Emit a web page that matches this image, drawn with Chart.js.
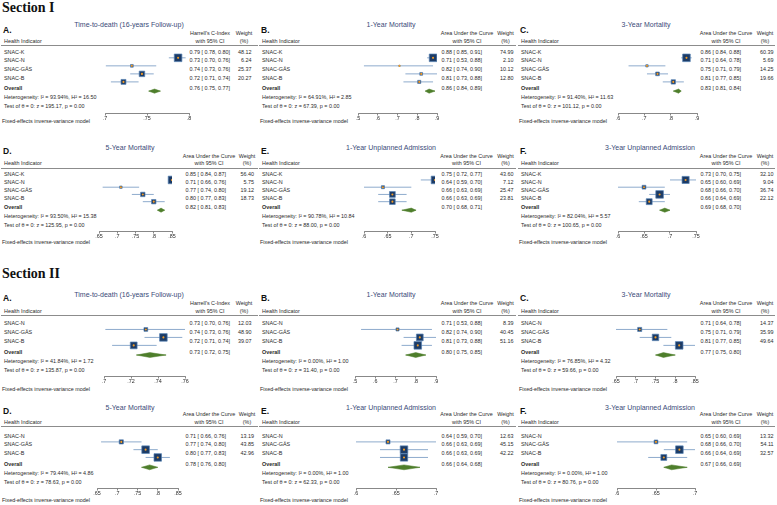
<!DOCTYPE html>
<html>
<head>
<meta charset="utf-8">
<script src="https://cdn.jsdelivr.net/npm/chart.js@4.4.1/dist/chart.umd.min.js"></script>
<style>
html, body { margin: 0; padding: 0; background: #fff; }
#fig { position: relative; width: 777px; height: 505px; overflow: hidden; background: #fff;
       font-family: 'Liberation Sans', Arial, sans-serif; color: #2a2a2a; }
.t { position: absolute; white-space: pre; line-height: 1; }
.rule { position: absolute; height: 1px; background: #8c8c8c; }
canvas { position: absolute; }
</style>
</head>
<body>
<div id="fig"></div>
<script>
// ---- data ----
const studiesI = ['SNAC-K', 'SNAC-N', 'SNAC-GÄS', 'SNAC-B'];
const studiesII = ['SNAC-N', 'SNAC-GÄS', 'SNAC-B'];
const outcomes = ['Time-to-death (16-years Follow-up)', '1-Year Mortality', '3-Year Mortality',
                  '5-Year Mortality', '1-Year Unplanned Admission', '3-Year Unplanned Admission'];
const letters = ['A.', 'B.', 'C.', 'D.', 'E.', 'F.'];
const metrics = ["Harrell's C-Index", 'Area Under the Curve', 'Area Under the Curve',
                 'Area Under the Curve', 'Area Under the Curve', 'Area Under the Curve'];

// Section I
const estI = [[0.787, 0.732, 0.744, 0.722], [0.88, 0.71, 0.82, 0.81], [0.86, 0.71, 0.75, 0.81],
              [0.85, 0.71, 0.77, 0.80], [0.75, 0.64, 0.66, 0.66], [0.73, 0.65, 0.68, 0.66]];
const loI = [[0.776, 0.701, 0.730, 0.707], [0.85, 0.53, 0.74, 0.73], [0.84, 0.64, 0.71, 0.77],
             [0.84, 0.66, 0.74, 0.77], [0.72, 0.59, 0.63, 0.63], [0.70, 0.60, 0.66, 0.64]];
const hiI = [[0.796, 0.761, 0.758, 0.740], [0.91, 0.88, 0.90, 0.88], [0.88, 0.78, 0.79, 0.85],
             [0.87, 0.76, 0.80, 0.83], [0.77, 0.70, 0.69, 0.69], [0.75, 0.69, 0.70, 0.69]];
const wtI = [[48.12, 6.24, 25.37, 20.27], [74.99, 2.10, 10.12, 12.80], [60.39, 5.69, 14.25, 19.66],
             [56.40, 5.75, 19.12, 18.73], [43.60, 7.12, 25.47, 23.81], [32.10, 9.04, 36.74, 22.12]];
const overallI = [[0.759, 0.752, 0.766], [0.86, 0.84, 0.89], [0.83, 0.81, 0.84],
                  [0.82, 0.81, 0.83], [0.70, 0.68, 0.71], [0.69, 0.68, 0.70]];
const i2I = [93.94, 64.91, 91.40, 93.50, 90.78, 82.04];
const h2I = [16.50, 2.85, 11.63, 15.38, 10.84, 5.57];
const zI = [195.17, 67.39, 101.12, 125.95, 88.00, 100.65];
const ticksI = [[.7, .75, .8], [.5, .6, .7, .8, .9], [.6, .7, .8, .9],
                [.65, .7, .75, .8, .85], [.6, .65, .7, .75], [.6, .65, .7, .75]];

// Section II
const estII = [[0.731, 0.744, 0.722], [0.71, 0.82, 0.81], [0.71, 0.75, 0.81],
               [0.71, 0.77, 0.80], [0.64, 0.66, 0.66], [0.65, 0.68, 0.66]];
const loII = [[0.701, 0.730, 0.706], [0.53, 0.74, 0.73], [0.64, 0.71, 0.77],
              [0.66, 0.74, 0.77], [0.59, 0.63, 0.63], [0.60, 0.66, 0.64]];
const hiII = [[0.760, 0.758, 0.739], [0.88, 0.90, 0.88], [0.78, 0.79, 0.85],
              [0.76, 0.80, 0.83], [0.70, 0.69, 0.69], [0.69, 0.70, 0.69]];
const wtII = [[12.03, 48.90, 39.07], [8.39, 40.45, 51.16], [14.37, 35.99, 49.64],
              [13.19, 43.85, 42.96], [12.63, 45.15, 42.22], [13.32, 54.11, 32.57]];
const overallII = [[0.734, 0.724, 0.746], [0.80, 0.75, 0.85], [0.77, 0.75, 0.80],
                   [0.78, 0.76, 0.80], [0.66, 0.64, 0.68], [0.67, 0.66, 0.69]];
const i2II = [41.84, 0.00, 76.85, 79.44, 0.00, 0.00];
const h2II = [1.72, 1.00, 4.32, 4.86, 1.00, 1.00];
const zII = [135.87, 31.40, 59.66, 78.63, 62.33, 80.76];
const ticksII = [[.7, .72, .74, .76], [.5, .6, .7, .8, .9], [.65, .7, .75, .8, .85],
                 [.65, .7, .75, .8, .85], [.6, .65, .7], [.6, .65, .7]];

// ---- layout (pixels) ----
const PANEL_X = [
  { x0: 0,   ci: 189.5, wt: 251.5, hCi: 210,   hWt: 244,   title: 129 },
  { x0: 258, ci: 441.5, wt: 513.5, hCi: 467,   hWt: 505.5, title: 391 },
  { x0: 517, ci: 700.5, wt: 773.5, hCi: 726,   hWt: 765,   title: 646 },
  { x0: 0,   ci: 185.5, wt: 254,   hCi: 209,   hWt: 247,   title: 130 },
  { x0: 258, ci: 441.5, wt: 513.5, hCi: 466.5, hWt: 505.5, title: 391 },
  { x0: 517, ci: 700.5, wt: 773.5, hCi: 726,   hWt: 765,   title: 650 }
];
const plotXI = [[105.3, 188.7], [358, 436.7], [618, 697], [99, 171.7], [364, 434.7], [618, 696]];
const plotXII = [[103.5, 184.5], [354.7, 436.3], [615.7, 694.7], [97.3, 178.3], [356.3, 436.3], [617, 695.3]];
const ROWS_I = [
  { T: 24,  letter: 30,    h1: 34,  h2: 41.7,  rule: 45.5,  r0: 52.5,  sp: 8.8,  ov: 89,    het: 98.3,  test: 106.8, axis: 113,   fixed: 122.3 },
  { T: 147, letter: 150.5, h1: 157, h2: 163.7, rule: 168.3, r0: 174.6, sp: 8.0,  ov: 208,   het: 217,   test: 225.7, axis: 230.5, fixed: 243 }
];
const ROWS_II = [
  { T: 294,   letter: 298.3, h1: 304.3, h2: 311.7, rule: 315.5, r0: 324.3, sp: 8.85, ov: 352.7, het: 361.7, test: 370.5, axis: 375.5, fixed: 390 },
  { T: 407.3, letter: 410.5, h1: 415,   h2: 422.7, rule: 426.5, r0: 436.7, sp: 8.65, ov: 465,   het: 474,   test: 482.7, axis: 488.3, fixed: 501 }
];

const CI_COL = '#8eabcd';
const SQ_COL = '#1c3b66';
const SQ_EDGE = '#5682b4';
const DOT_COL = '#f39c25';
const DIA_COL = '#4f7f2c';
const TITLE_COL = '#3a4a78';
const FONT = "'Liberation Sans', Arial, sans-serif";
const SMALL = 5.4;

const fig = document.getElementById('fig');

function txt(x, y, s, opt = {}) {
  const d = document.createElement('div');
  d.className = 't';
  d.textContent = s;
  d.style.left = x + 'px';
  d.style.top = y + 'px';
  d.style.fontSize = (opt.size || SMALL) + 'px';
  if (opt.bold) d.style.fontWeight = 'bold';
  if (opt.color) d.style.color = opt.color;
  if (opt.font) d.style.fontFamily = opt.font;
  const ax = opt.align === 'right' ? '-100%' : opt.align === 'center' ? '-50%' : '0';
  d.style.transform = `translate(${ax}, -50%)`;
  fig.appendChild(d);
}

function rule(x1, x2, y) {
  const d = document.createElement('div');
  d.className = 'rule';
  d.style.left = x1 + 'px';
  d.style.width = (x2 - x1) + 'px';
  d.style.top = (y - 0.5) + 'px';
  fig.appendChild(d);
}

const f2 = v => v.toFixed(2);
const ciText = (e, l, h) => `${f2(e)} [ ${f2(l)}, ${f2(h)}]`;

function forest(plotX, R, est, lo, hi, wt, ov, ticks, dHalf) {
  const PAD = 12, AXH = 13;
  const left = Math.round(plotX[0]), right = Math.round(plotX[1]);
  const top = Math.round(R.r0 - R.sp), bot = Math.round(R.axis);
  const cv = document.createElement('canvas');
  cv.width = right - left + 2 * PAD;
  cv.height = bot - top + AXH;
  cv.style.left = (left - PAD) + 'px';
  cv.style.top = top + 'px';
  fig.appendChild(cv);

  const toRow = y => (y - R.r0) / R.sp;
  const yOv = toRow(R.ov);
  const h = dHalf / R.sp;
  const maxW = Math.max(...wt);
  const rows = est.map((_, i) => i);

  const datasets = [];
  rows.forEach(i => {
    datasets.push({
      data: [{ x: lo[i], y: i }, { x: hi[i], y: i }],
      showLine: true, borderColor: CI_COL, borderWidth: 1, pointRadius: 0, order: 3
    });
  });
  datasets.push({
    data: rows.map(i => ({ x: est[i], y: i })),
    pointStyle: 'rect',
    pointRadius: rows.map(i => 7.6 * Math.sqrt(wt[i] / maxW) / Math.SQRT2),
    backgroundColor: SQ_COL, borderColor: SQ_EDGE, borderWidth: 0.7, order: 2
  });
  datasets.push({
    data: rows.map(i => ({ x: est[i], y: i })),
    pointStyle: 'circle', pointRadius: 1.05,
    backgroundColor: DOT_COL, borderWidth: 0, order: 1
  });
  // overall diamond: lo -> top -> hi -> bottom -> lo -> hi
  datasets.push({
    data: [{ x: ov[1], y: yOv }, { x: ov[0], y: yOv - h }, { x: ov[2], y: yOv },
           { x: ov[0], y: yOv + h }, { x: ov[1], y: yOv }, { x: ov[2], y: yOv }],
    showLine: true, fill: 'shape', backgroundColor: DIA_COL, borderColor: DIA_COL,
    borderWidth: 0.5, pointRadius: 0, order: 3
  });

  new Chart(cv, {
    type: 'scatter',
    data: { datasets },
    options: {
      responsive: false,
      animation: false,
      events: [],
      layout: { padding: { left: PAD, right: PAD, top: 0, bottom: 0 } },
      plugins: { legend: { display: false }, tooltip: { enabled: false } },
      scales: {
        x: {
          type: 'linear',
          min: ticks[0],
          max: ticks[ticks.length - 1],
          afterBuildTicks: s => { s.ticks = ticks.map(v => ({ value: v })); },
          afterFit: s => { s.height = AXH; },
          border: { display: true, color: '#555', width: 0.7 },
          grid: { display: true, drawOnChartArea: false, drawTicks: true, tickLength: 2.5, color: '#555', lineWidth: 0.7 },
          ticks: {
            font: { size: SMALL, family: FONT }, color: '#2a2a2a', padding: 0,
            maxRotation: 0, autoSkip: false,
            callback: v => String(+(+v).toFixed(2)).replace(/^0/, '')
          }
        },
        y: { type: 'linear', display: false, reverse: true, min: toRow(top), max: toRow(bot) }
      }
    }
  });
}

function section(rowsL, plotX, studies, est, lo, hi, wt, overall, i2, h2, z, ticks, dHalf) {
  for (let k = 0; k < 6; k++) {
    const P = PANEL_X[k];
    const R = rowsL[k < 3 ? 0 : 1];
    const lx = P.x0 + 4;
    txt(P.x0 + 3, R.letter, letters[k], { size: 8.5, bold: true, color: '#111' });
    txt(P.title, R.T, outcomes[k], { size: 7, align: 'center', color: TITLE_COL });
    txt(P.hCi, R.h1, metrics[k], { align: 'center' });
    txt(P.hCi, R.h2, 'with 95% CI', { align: 'center' });
    txt(P.hWt, R.h1, 'Weight', { align: 'center' });
    txt(P.hWt, R.h2, '(%)', { align: 'center' });
    txt(lx, R.h2 + 0.6, 'Health Indicator');
    rule(P.x0 + 1, P.x0 + 258, R.rule);
    studies.forEach((s, i) => {
      const y = R.r0 + i * R.sp;
      txt(lx, y, s);
      txt(P.ci, y, ciText(est[k][i], lo[k][i], hi[k][i]));
      txt(P.wt, y, f2(wt[k][i]), { align: 'right' });
    });
    txt(lx, R.ov, 'Overall', { bold: true });
    txt(P.ci, R.ov, ciText(overall[k][0], overall[k][1], overall[k][2]));
    txt(lx, R.het, `Heterogeneity: I² = ${f2(i2[k])}%, H² = ${f2(h2[k])}`);
    txt(lx, R.test, `Test of θ = 0: z = ${f2(z[k])}, p = 0.00`);
    txt(P.x0 + 2, R.fixed, 'Fixed-effects inverse-variance model');
    forest(plotX[k], R, est[k], lo[k], hi[k], wt[k], overall[k], ticks[k], dHalf);
  }
}

txt(2, 7.5, 'Section I', { size: 14, bold: true, color: '#111', font: "'Liberation Serif', 'Times New Roman', serif" });
txt(2, 273.5, 'Section II', { size: 14, bold: true, color: '#111', font: "'Liberation Serif', 'Times New Roman', serif" });

section(ROWS_I, plotXI, studiesI, estI, loI, hiI, wtI, overallI, i2I, h2I, zI, ticksI, 2.3);
section(ROWS_II, plotXII, studiesII, estII, loII, hiII, wtII, overallII, i2II, h2II, zII, ticksII, 2.7);
</script>
</body>
</html>
